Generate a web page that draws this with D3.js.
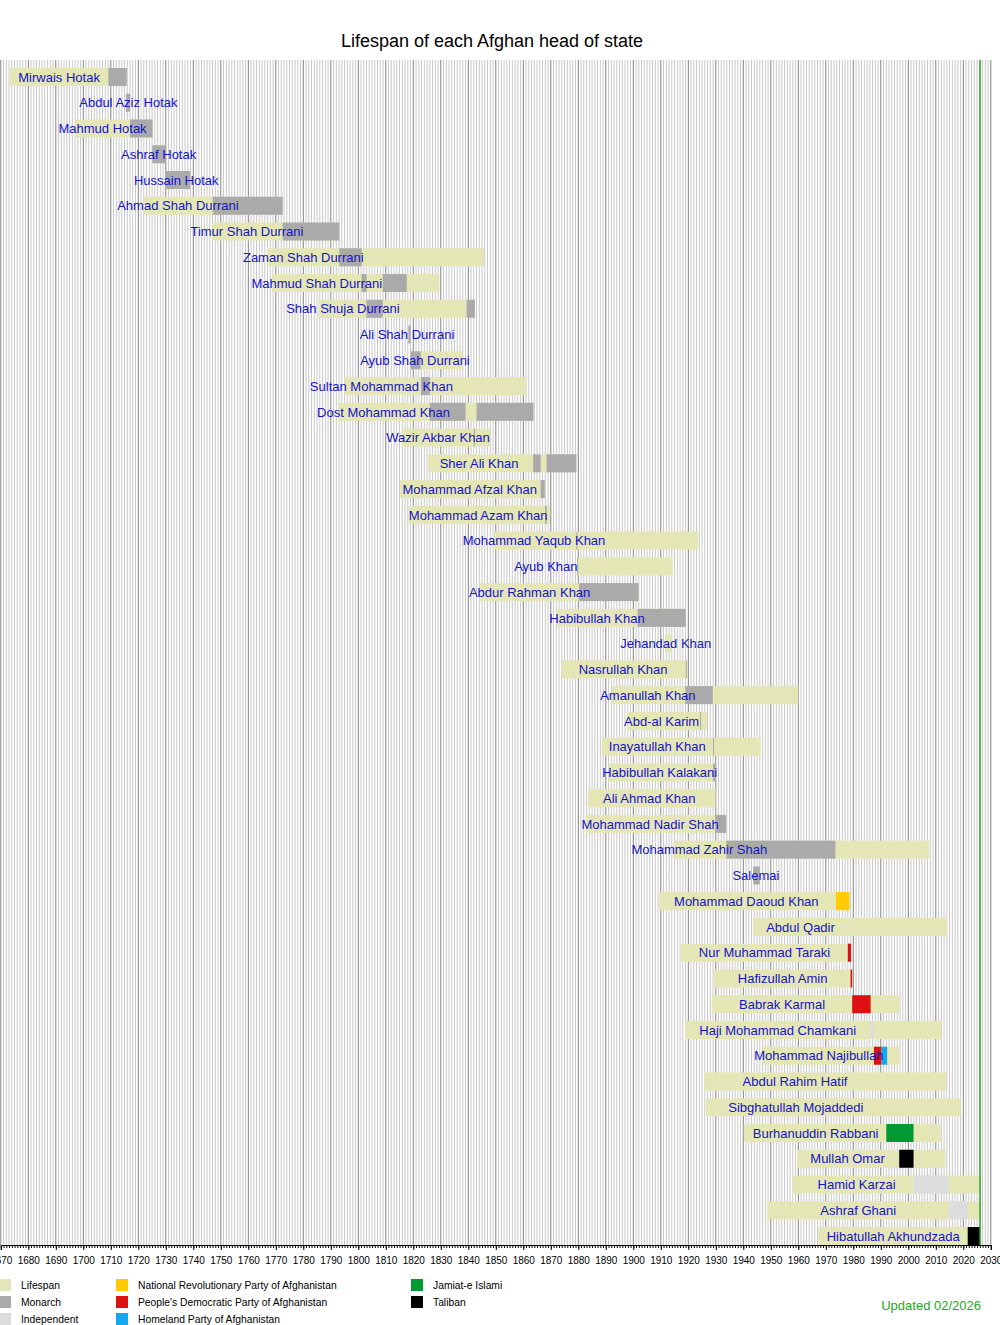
<!DOCTYPE html>
<html>
<head>
<meta charset="utf-8">
<script src="https://cdn.jsdelivr.net/npm/d3@7"></script>
<style>
  body { margin: 0; background: #fff; }
  svg text { font-family: "Liberation Sans", Arial, sans-serif; }
</style>
</head>
<body>
<svg id="chart" width="1000" height="1325"></svg>
<script>
// heads of state, top to bottom
var names = ["Mirwais Hotak", "Abdul Aziz Hotak", "Mahmud Hotak", "Ashraf Hotak", "Hussain Hotak",
  "Ahmad Shah Durrani", "Timur Shah Durrani", "Zaman Shah Durrani", "Mahmud Shah Durrani", "Shah Shuja Durrani",
  "Ali Shah Durrani", "Ayub Shah Durrani", "Sultan Mohammad Khan", "Dost Mohammad Khan", "Wazir Akbar Khan",
  "Sher Ali Khan", "Mohammad Afzal Khan", "Mohammad Azam Khan", "Mohammad Yaqub Khan", "Ayub Khan",
  "Abdur Rahman Khan", "Habibullah Khan", "Jehandad Khan", "Nasrullah Khan", "Amanullah Khan",
  "Abd-al Karim", "Inayatullah Khan", "Habibullah Kalakani", "Ali Ahmad Khan", "Mohammad Nadir Shah",
  "Mohammad Zahir Shah", "Salemai", "Mohammad Daoud Khan", "Abdul Qadir", "Nur Muhammad Taraki",
  "Hafizullah Amin", "Babrak Karmal", "Haji Mohammad Chamkani", "Mohammad Najibullah", "Abdul Rahim Hatif",
  "Sibghatullah Mojaddedi", "Burhanuddin Rabbani", "Mullah Omar", "Hamid Karzai", "Ashraf Ghani",
  "Hibatullah Akhundzada"];

var present = 2026.1;

// lifespan bars (null = not shown)
var born = [1673.3, null, 1697, null, null,
  1721.8, 1746.7, 1766.7, 1768.5, 1785.5,
  null, 1819, 1794.9, 1792.7, 1815.8,
  1825.4, 1815.2, 1818.2, 1849.2, 1879.8,
  1844.3, 1872.1, 1911.5, 1873.9, 1892.2,
  1897.7, 1888.5, 1891, 1883.5, 1882.7,
  1914.6, null, 1909.4, 1943.6, 1917.3,
  1929.3, 1928.5, 1918.8, 1947, 1925.8,
  1926.3, 1940.2, 1959.6, 1957.8, 1948.7,
  1967.3];
var died = [1715.8, null, 1725.2, null, null,
  1772.5, 1793.1, 1845.7, 1829.5, 1842.4,
  null, 1837.9, 1861, 1863.7, 1847.9,
  1879.3, 1867.8, 1869.7, 1923.6, 1914.3,
  1901.9, 1919.1, 1914, 1919.8, 1960,
  1926.7, 1946.3, 1929.9, 1929.9, 1933.8,
  2007.6, null, 1978.6, 2014, 1979.2,
  1979.6, 1996.8, 2012, 1996.8, 2013.8,
  2019, 2011.8, 2013.5, present, present,
  present];

// time in office: [from, till, group]
var reigns = [
  [[1709.1, 1715.8, "M"]],
  [[1715.5, 1717, "M"]],
  [[1717, 1725.2, "M"]],
  [[1725.1, 1729.7, "M"]],
  [[1729.7, 1738.8, "M"]],
  [[1747.1, 1772.5, "M"]],
  [[1772.5, 1793.1, "M"]],
  [[1793.1, 1801.2, "M"]],
  [[1801.2, 1803, "M"], [1808.9, 1817.6, "M"]],
  [[1803, 1808.9, "M"], [1839.4, 1842.4, "M"]],
  [[1818.2, 1819, "M"]],
  [[1819, 1822.7, "M"]],
  [[1822.8, 1826, "M"]],
  [[1826, 1839, "M"], [1843, 1863.7, "M"]],
  [[1842, 1842.4, "M"]],
  [[1863.6, 1866.3, "M"], [1868.5, 1879.3, "M"]],
  [[1866.3, 1867.8, "M"]],
  [[1867.9, 1868.5, "M"]],
  [[1879.3, 1879.6, "M"]],
  [[1879.6, 1879.9, "M"]],
  [[1880.3, 1901.9, "M"]],
  [[1901.6, 1919.1, "M"]],
  [],
  [[1919.1, 1919.3, "M"]],
  [[1918.9, 1928.9, "M"]],
  [[1924.3, 1924.5, "M"]],
  [[1929, 1929.1, "M"]],
  [[1929, 1929.9, "M"]],
  [],
  [[1929.8, 1933.8, "M"]],
  [[1933.8, 1973.5, "M"]],
  [[1943.6, 1946, "M"]],
  [[1973.7, 1978.6, "NRP"]],
  [],
  [[1978, 1979.2, "PDPA"]],
  [[1979, 1979.6, "PDPA"]],
  [[1979.6, 1986.3, "PDPA"]],
  [[1986.3, 1987.5, "I"]],
  [[1987.5, 1990.2, "PDPA"], [1990.2, 1992.3, "HP"]],
  [],
  [],
  [[1992, 2001.9, "JI"]],
  [[1996.7, 2001.9, "T"]],
  [[2001.9, 2014.7, "I"]],
  [[2014.7, 2021.6, "I"]],
  [[2021.6, present, "T"]]
];

// where each name sits (year at the centre of the text)
var labelAt = [1691.2, 1716.4, 1707.0, 1727.4, 1733.8,
  1734.4, 1759.5, 1780.0, 1784.9, 1794.4,
  1817.7, 1820.6, 1808.4, 1809.2, 1829.0,
  1843.9, 1840.5, 1843.6, 1863.9, 1868.2,
  1862.3, 1886.8, 1911.8, 1896.3, 1905.3,
  1910.3, 1908.7, 1909.6, 1905.8, 1906.1,
  1924.0, 1944.6, 1941.1, 1960.8, 1947.7,
  1954.3, 1954.1, 1952.5, 1967.5, 1958.8,
  1959.1, 1966.3, 1977.9, 1981.2, 1981.8,
  1994.5];

var legendKeys = ["L", "M", "I", "NRP", "PDPA", "HP", "JI", "T"];
var legendNames = ["Lifespan", "Monarch", "Independent", "National Revolutionary Party of Afghanistan",
  "People's Democratic Party of Afghanistan", "Homeland Party of Afghanistan", "Jamiat-e Islami", "Taliban"];

var colors = {L: "#e4e6b6", M: "#aaaaaa", I: "#dddddd", NRP: "#ffcc00", PDPA: "#dd1111",
  HP: "#11aaee", JI: "#009933", T: "#000000"};

var svg = d3.select("#chart"),
    top0 = 60, axisY = 1245;

var x = d3.scaleLinear().domain([1670, 2030]).range([0.8, 990.8]);
var y = d3.scaleBand().domain(names).range([64.1, 1248.9]);
var barH = 18;

svg.append("text")
    .attr("x", 492).attr("y", 47)
    .attr("text-anchor", "middle")
    .style("font-size", "18px")
    .text("Lifespan of each Afghan head of state");

// yearly grid, decades darker
var years = d3.range(1670, 2031);
svg.append("g").selectAll("line")
    .data(years)
    .enter().append("line")
    .attr("x1", function(d) { return x(d); })
    .attr("x2", function(d) { return x(d); })
    .attr("y1", top0).attr("y2", axisY)
    .attr("stroke", function(d) { return d % 10 == 0 ? "#808080" : "#c8c8c8"; })
    .attr("stroke-width", 1);

var rows = svg.append("g").selectAll("g")
    .data(names)
    .enter().append("g")
    .attr("transform", function(d) { return "translate(0," + (y(d) + y.bandwidth() / 2) + ")"; });

rows.filter(function(d, i) { return born[i] != null; })
  .append("rect")
    .attr("x", function(d) { var i = names.indexOf(d); return x(born[i]); })
    .attr("width", function(d) { var i = names.indexOf(d); return x(died[i]) - x(born[i]); })
    .attr("y", -barH / 2).attr("height", barH)
    .attr("fill", colors.L);

rows.each(function(d, i) {
  d3.select(this).selectAll("rect.reign")
      .data(reigns[i])
      .enter().append("rect")
      .attr("class", "reign")
      .attr("x", function(r) { return x(r[0]); })
      .attr("width", function(r) { return Math.max(1, x(r[1]) - x(r[0])); })
      .attr("y", -barH / 2).attr("height", barH)
      .attr("fill", function(r) { return colors[r[2]]; });
});

rows.append("text")
    .attr("x", function(d, i) { return x(labelAt[i]); })
    .attr("dy", "0.36em")
    .attr("text-anchor", "middle")
    .attr("fill", "#1414c4")
    .style("font-size", "13px")
    .text(function(d) { return d; });

// today
svg.append("line")
    .attr("x1", x(present)).attr("x2", x(present))
    .attr("y1", top0).attr("y2", axisY)
    .attr("stroke", "#22aa22").attr("stroke-width", 1.5);

// axis: decade labels, yearly minor ticks
var axis = svg.append("g").attr("transform", "translate(0," + axisY + ")");
axis.append("g")
    .call(d3.axisBottom(x).tickValues(years).tickSize(3).tickFormat(""))
    .call(function(g) { g.select(".domain").remove(); });
axis.append("g")
    .call(d3.axisBottom(x).tickValues(d3.range(1670, 2031, 10)).tickSize(5).tickPadding(7).tickFormat(d3.format("d")))
    .call(function(g) { g.selectAll("text").style("font-size", "10px").style("font-family", "Liberation Sans, Arial, sans-serif"); });

// legend, three columns
var legX = [0, 117, 412];
var leg = svg.append("g").selectAll("g")
    .data(legendKeys)
    .enter().append("g")
    .attr("transform", function(d, i) {
      var col = i < 3 ? 0 : (i < 6 ? 1 : 2), row = i < 3 ? i : (i < 6 ? i - 3 : i - 6);
      return "translate(" + legX[col] + "," + (1285 + row * 17) + ")";
    });
leg.append("rect")
    .attr("x", -1).attr("y", -6).attr("width", 12).attr("height", 12)
    .attr("fill", function(d) { return colors[d]; });
leg.append("text")
    .attr("x", 21).attr("dy", "0.35em")
    .style("font-size", "10.3px")
    .text(function(d) { return legendNames[legendKeys.indexOf(d)]; });

svg.append("text")
    .attr("x", 981).attr("y", 1310)
    .attr("text-anchor", "end")
    .attr("fill", "#22aa22")
    .style("font-size", "13px")
    .text("Updated 02/2026");
</script>
</body>
</html>
